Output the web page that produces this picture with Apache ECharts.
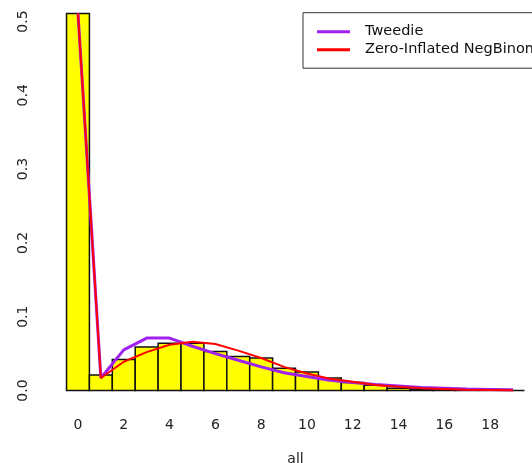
<!DOCTYPE html>
<html><head><meta charset="utf-8">
<script src="https://cdn.jsdelivr.net/npm/echarts@6/dist/echarts.min.js"></script>
<style>html,body{margin:0;padding:0;background:#fff}#c{width:532px;height:463px}</style>
</head><body><div id="c"></div>
<script>
const counts = [0,1,2,3,4,5,6,7,8,9,10,11,12,13,14,15,16,17,18,19];
const observed = [0.511,0.021,0.042,0.059,0.064,0.064,0.053,0.046,0.044,0.030,0.025,0.017,0.011,0.007,0.003,0.002,0.001,0.0005,0,0];
const tweedie = [0.511,0.017,0.055,0.071,0.071,0.060,0.050,0.041,0.032,0.024,0.019,0.014,0.011,0.008,0.006,0.004,0.003,0.002,0.0015,0.001];
const zinb = [0.511,0.017,0.039,0.052,0.062,0.066,0.063,0.054,0.044,0.032,0.023,0.016,0.012,0.0075,0.005,0.003,0.002,0.001,0.0007,0.0005];
const xTicks = [0,2,4,6,8,10,12,14,16,18];
const yTicks = [0,0.1,0.2,0.3,0.4,0.5];
const seriesNames = ['Tweedie','Zero-Inflated NegBinom'];

const font = 'DejaVu Sans, sans-serif';
const chart = echarts.init(document.getElementById('c'));
chart.setOption({
  animation:false,
  backgroundColor:'#fff',
  grid:{left:48.2, top:21.5, height:369, width:494.6, outerBoundsMode:'none', containLabel:false},
  legend:{
    left:303, top:12.7, orient:'vertical',
    padding:[11.5,14,11,14], itemGap:3,
    borderColor:'#333', borderWidth:1,
    itemWidth:33, itemHeight:3, icon:'rect',
    textStyle:{fontFamily:font, fontSize:14.5, color:'#111', padding:[0,0,0,10]},
    data:seriesNames
  },
  xAxis:{
    type:'value', min:-1.3, max:20.3,
    axisLine:{show:false}, axisTick:{show:false}, splitLine:{show:false},
    axisLabel:{customValues:xTicks, fontFamily:font, fontSize:14, color:'#222', margin:28},
    name:'all', nameLocation:'middle', nameGap:62,
    nameTextStyle:{fontFamily:font, fontSize:14, color:'#222'}
  },
  yAxis:{
    type:'value', min:0, max:0.5, interval:0.1,
    axisLine:{show:true, lineStyle:{color:'#333', width:1}},
    axisTick:{show:true, length:9, lineStyle:{color:'#333'}},
    splitLine:{show:false},
    axisLabel:{rotate:90, margin:18, fontFamily:font, fontSize:14, color:'#222',
      formatter:v=>v.toFixed(1)}
  },
  series:[
    {
      type:'custom', name:'observed', clip:false, z:1,
      data:counts.map((c,i)=>[c, observed[i]]),
      renderItem:(params, api)=>{
        const x = api.value(0), y = api.value(1);
        const p0 = api.coord([x-0.5, y]);
        const p1 = api.coord([x+0.5, 0]);
        return {type:'rect', shape:{x:p0[0], y:p0[1], width:p1[0]-p0[0], height:p1[1]-p0[1]},
          style:{fill:'#FFFF00', stroke:'#111', lineWidth:1.5}};
      }
    },
    {
      type:'line', name:seriesNames[0], clip:false, z:3, symbol:'none',
      data:counts.map((c,i)=>[c, tweedie[i]]),
      itemStyle:{color:'#A020F0'}, lineStyle:{color:'#A020F0', width:3}
    },
    {
      type:'line', name:seriesNames[1], clip:false, z:4, symbol:'none',
      data:counts.map((c,i)=>[c, zinb[i]]),
      itemStyle:{color:'#FF0000'}, lineStyle:{color:'#FF0000', width:2}
    }
  ]
});
</script></body></html>
